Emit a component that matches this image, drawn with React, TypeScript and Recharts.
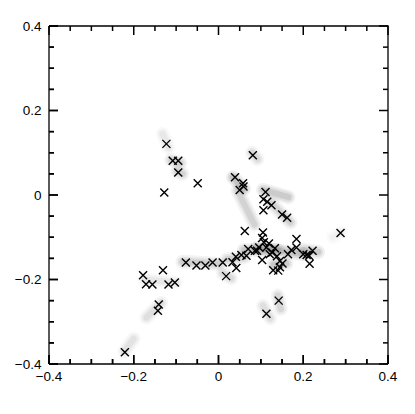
import React from 'react';
import { ScatterChart, Scatter, XAxis, YAxis, ReferenceLine } from 'recharts';

// positions (data units)
const ptX = [
  -0.123, -0.108, -0.095, -0.095, -0.128, -0.049, 0.081, 0.039, 0.058, 0.059,
  0.050, 0.111, 0.106, 0.115, 0.125, 0.106, 0.150, 0.162, 0.288, 0.062,
  0.105, 0.103, 0.107, 0.119, 0.096, 0.113, 0.133, 0.091, 0.127, 0.121,
  0.103, 0.138, 0.145, 0.151, 0.145, 0.129, 0.141, 0.164, 0.172, 0.184,
  0.184, 0.200, 0.208, 0.214, 0.222, 0.215, 0.070, 0.066, 0.054, 0.041,
  0.033, 0.042, 0.086, 0.010, -0.014, -0.031, -0.052, -0.077, 0.018, -0.131,
  -0.178, -0.171, -0.156, -0.118, -0.103, -0.141, -0.143, -0.221, 0.142, 0.113,
];
const ptY = [
  0.121, 0.081, 0.081, 0.053, 0.006, 0.028, 0.094, 0.042, 0.028, 0.020,
  0.012, 0.007, -0.010, -0.016, -0.024, -0.036, -0.046, -0.054, -0.090, -0.085,
  -0.089, -0.102, -0.112, -0.115, -0.124, -0.124, -0.126, -0.132, -0.136, -0.140,
  -0.154, -0.145, -0.156, -0.162, -0.171, -0.178, -0.179, -0.140, -0.130, -0.104,
  -0.124, -0.140, -0.142, -0.144, -0.132, -0.163, -0.128, -0.144, -0.142, -0.146,
  -0.159, -0.173, -0.132, -0.160, -0.160, -0.167, -0.167, -0.160, -0.192, -0.178,
  -0.190, -0.211, -0.212, -0.212, -0.207, -0.259, -0.274, -0.372, -0.250, -0.281,
];

// grey density streaks behind the crosses: start x, start y, end x, end y, strength
const smudgeX1 = [-0.132, -0.112, -0.097, 0.034, 0.045, 0.105, 0.125, 0.079, -0.085, 0.02, 0.06, 0.09, 0.2, -0.175, -0.135, -0.222, 0.105, 0.14, 0.27, 0.13, 0.01];
const smudgeY1 = [0.145, 0.083, 0.056, 0.042, 0.01, 0.012, -0.02, 0.1, -0.158, -0.152, -0.13, -0.125, -0.13, -0.2, -0.255, -0.37, -0.262, -0.238, -0.1, -0.165, -0.185];
const smudgeX2 = [-0.118, -0.09, -0.085, 0.06, 0.085, 0.165, 0.17, 0.092, 0.0, 0.06, 0.14, 0.2, 0.235, -0.1, -0.17, -0.2, 0.122, 0.147, 0.29, 0.16, 0.03];
const smudgeY2 = [0.112, 0.076, 0.05, 0.015, -0.07, -0.005, -0.065, 0.085, -0.163, -0.148, -0.13, -0.14, -0.135, -0.207, -0.29, -0.34, -0.292, -0.27, -0.088, -0.162, -0.197];
const smudgeA = [0.25, 0.5, 0.5, 0.7, 0.5, 0.6, 0.5, 0.4, 0.55, 0.5, 0.6, 0.7, 0.6, 0.25, 0.35, 0.3, 0.35, 0.45, 0.15, 0.6, 0.4];

const ticks = [-0.4, -0.35, -0.3, -0.25, -0.2, -0.15, -0.1, -0.05, 0, 0.05, 0.1, 0.15, 0.2, 0.25, 0.3, 0.35, 0.4];
const majorTicks = [-0.4, -0.2, 0, 0.2, 0.4];
const LO = -0.4;
const HI = 0.4;

const points = ptX.map((x, i) => ({ x, y: ptY[i] }));
const smudges = smudgeX1.map((x1, i) => ({ x1, y1: smudgeY1[i], x2: smudgeX2[i], y2: smudgeY2[i], a: smudgeA[i] }));

// top and right sides of the frame (bottom/left come from the axes)
const frame = [{ x: LO, y: HI }, { x: HI, y: HI }, { x: HI, y: LO }];

// tick marks on the four sides, drawn inward by the TickMark shape
const tickMarks = ticks.flatMap((t) => [
  { x: t, y: LO, tv: t, side: 'b' },
  { x: t, y: HI, tv: t, side: 't' },
  { x: LO, y: t, tv: t, side: 'l' },
  { x: HI, y: t, tv: t, side: 'r' },
]);

const fmt = (v: number) => (v === 0 ? '0' : v < 0 ? '\u2212' + Math.abs(v).toFixed(1) : v.toFixed(1));
const FONT = '"Liberation Sans", Arial, sans-serif';
const INK = '#000';
const tickLen = (v: number) => (majorTicks.some((m) => Math.abs(m - v) < 1e-9) ? 9 : 5);

const BottomTick = (props: any) => {
  const { x, y, payload } = props;
  const v = payload.value;
  const major = majorTicks.some((m) => Math.abs(m - v) < 1e-9);
  return (
    <g>
      <line x1={x} y1={y} x2={x} y2={y - tickLen(v)} stroke="red" strokeOpacity={0} />
      <line x1={x} y1={y} x2={x} y2={y - tickLen(v)} stroke={INK} strokeWidth={1.5} />
      {major ? (
        <text x={x} y={y + 17} textAnchor="middle" fontSize={13.5} fontFamily={FONT} fill={INK}>{fmt(v)}</text>
      ) : null}
    </g>
  );
};
const LeftTick = (props: any) => {
  const { x, y, payload } = props;
  const v = payload.value;
  const major = majorTicks.some((m) => Math.abs(m - v) < 1e-9);
  return (
    <g>
      <line x1={x} y1={y} x2={x + tickLen(v)} y2={y} stroke={INK} strokeWidth={1.5} />
      {major ? (
        <text x={x - 7.5} y={y + 4.7} textAnchor="end" fontSize={13.5} fontFamily={FONT} fill={INK}>{fmt(v)}</text>
      ) : null}
    </g>
  );
};

const TickMark = (props: any) => {
  const { cx, cy } = props;
  const side = props.side ?? props.payload?.side;
  const tv = props.tv ?? props.payload?.tv ?? 0;
  const len = tickLen(tv);
  let x2 = cx;
  let y2 = cy;
  if (side === 'b') y2 = cy - len;
  if (side === 't') y2 = cy + len;
  if (side === 'l') x2 = cx + len;
  if (side === 'r') x2 = cx - len;
  return <line x1={cx} y1={cy} x2={x2} y2={y2} stroke={INK} strokeWidth={1.5} />;
};

const Cross = (props: any) => {
  const { cx, cy } = props;
  const r = 4;
  return (
    <path d={`M${cx - r},${cy - r}L${cx + r},${cy + r}M${cx - r},${cy + r}L${cx + r},${cy - r}`}
      stroke="#000" strokeWidth={1.4} fill="none" />
  );
};
const Nothing = () => <g />;

// soft streak: a few stacked translucent strokes
const Smudge = (a: number) => (p: any) => (
  <g strokeLinecap="round" stroke="#808080" fill="none">
    <line x1={p.x1} y1={p.y1} x2={p.x2} y2={p.y2} strokeWidth={14} strokeOpacity={a * 0.18} />
    <line x1={p.x1} y1={p.y1} x2={p.x2} y2={p.y2} strokeWidth={10} strokeOpacity={a * 0.25} />
    <line x1={p.x1} y1={p.y1} x2={p.x2} y2={p.y2} strokeWidth={6} strokeOpacity={a * 0.35} />
  </g>
);

const axisLine = { stroke: INK, strokeWidth: 1.3 };

export default function App() {
  return (
    <ScatterChart width={400} height={400} margin={{ top: 18, right: 20, left: 1, bottom: 14 }}>
      <XAxis type="number" dataKey="x" domain={[LO, HI]} ticks={ticks} interval={0}
        height={30} tickSize={0} tickMargin={0} axisLine={axisLine} tickLine={false} tick={BottomTick} />
      <YAxis type="number" dataKey="y" domain={[LO, HI]} ticks={ticks} interval={0}
        width={40} tickSize={0} tickMargin={0} axisLine={axisLine} tickLine={false} tick={LeftTick} />
      {smudges.map((s, i) => (
        <ReferenceLine key={'s' + i}
          segment={[{ x: s.x1, y: s.y1 }, { x: s.x2, y: s.y2 }]} shape={Smudge(s.a)} />
      ))}
      <Scatter data={frame} shape={Nothing} line={{ stroke: INK, strokeWidth: 1.3 }} lineType="joint"
        isAnimationActive={false} />
      <Scatter data={tickMarks} shape={TickMark} isAnimationActive={false} />
      <Scatter data={points} shape={Cross} isAnimationActive={false} />
    </ScatterChart>
  );
}
